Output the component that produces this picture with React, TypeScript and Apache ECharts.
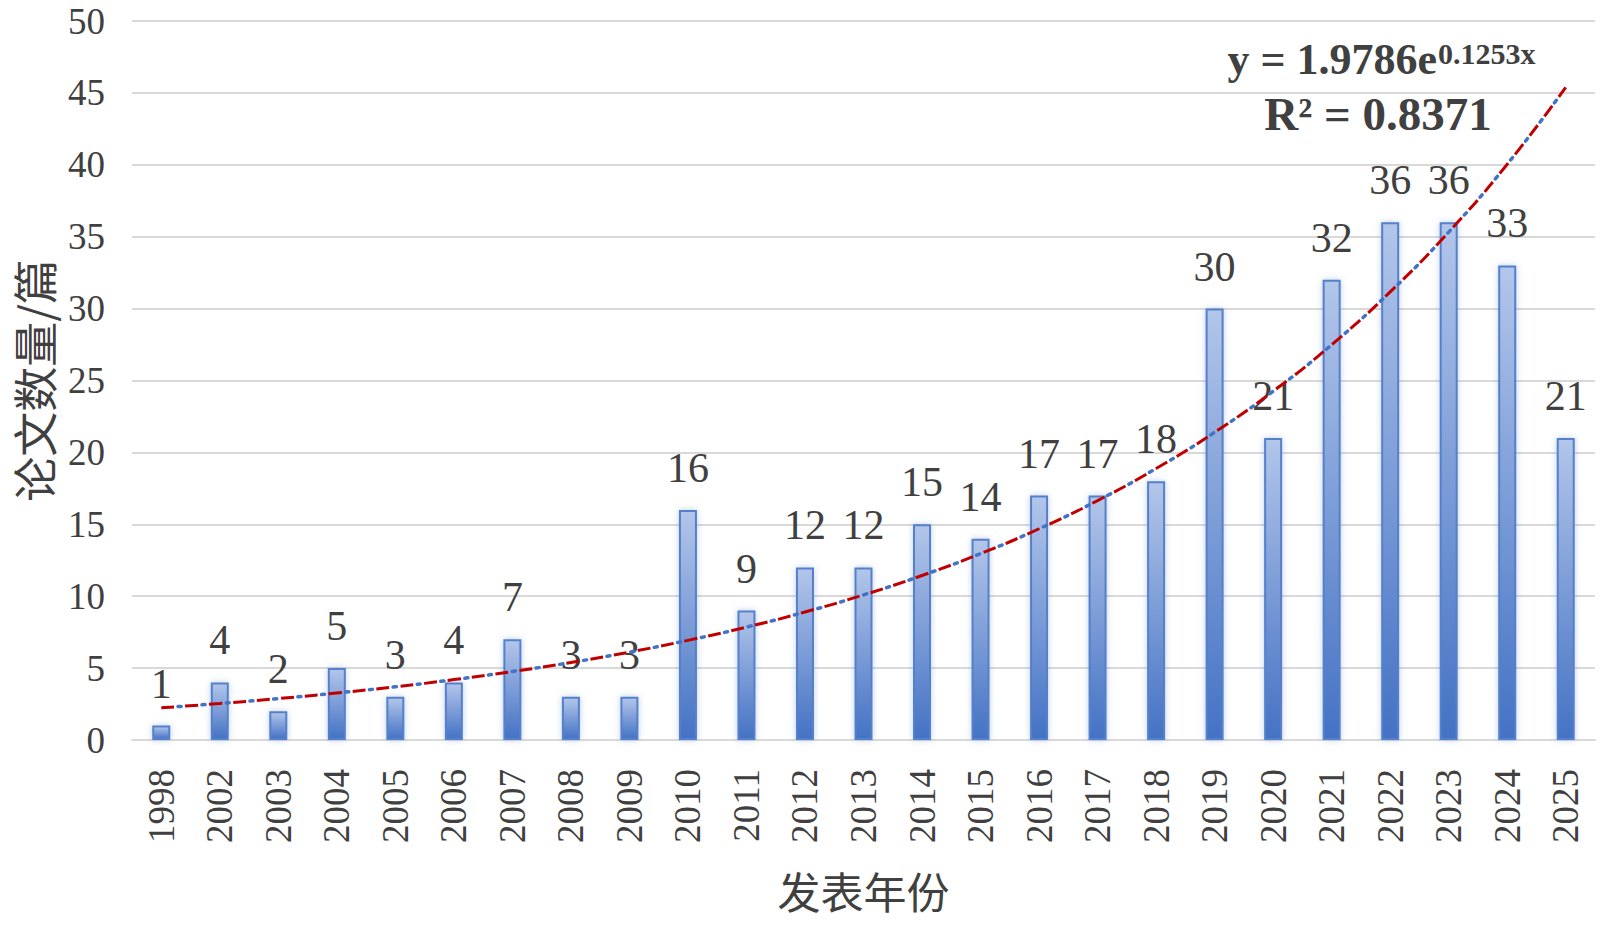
import React, { useEffect, useRef } from "react";
import * as echarts from "echarts";

const years = ["1998", "2002", "2003", "2004", "2005", "2006", "2007", "2008", "2009", "2010", "2011", "2012", "2013", "2014", "2015", "2016", "2017", "2018", "2019", "2020", "2021", "2022", "2023", "2024", "2025"];
const paperCounts = [1, 4, 2, 5, 3, 4, 7, 3, 3, 16, 9, 12, 12, 15, 14, 17, 17, 18, 30, 21, 32, 36, 36, 33, 21];
// exponential trend line values (y = 1.9786e^0.1253x)
const trendValues = [2.24, 2.54, 2.88, 3.27, 3.7, 4.2, 4.76, 5.39, 6.11, 6.93, 7.85, 8.9, 10.09, 11.44, 12.96, 14.69, 16.65, 18.88, 21.4, 24.25, 27.49, 31.16, 35.32, 40.04, 45.38];
const yTicks = { min: 0, max: 50, interval: 5 };
const xTitle = "发表年份";
const yTitle = "论文数量/篇";
const equationText = "y = 1.9786e";
const equationExp = "0.1253x";
const r2Text = "R² = 0.8371";

const SERIF = "'Liberation Serif', 'Times New Roman', serif";
const CJK = "'Noto Sans CJK SC', sans-serif";
const TEXT = "#404040";

export default function App() {
  const ref = useRef<HTMLDivElement>(null);
  useEffect(() => {
    if (!ref.current) return;
    const chart = echarts.init(ref.current, null, { renderer: "svg" });
    chart.setOption({
      animation: false,
      backgroundColor: "#ffffff",
      grid: { left: 132, right: 5, top: 21, bottom: 185, containLabel: false },
      xAxis: {
        type: "category",
        data: years,
        name: xTitle,
        nameLocation: "middle",
        nameGap: 128,
        nameTextStyle: { fontFamily: CJK, fontSize: 43, lineHeight: 44, color: TEXT },
        axisLine: { lineStyle: { color: "#d9d9d9", width: 2 } },
        axisTick: { show: false },
        axisLabel: {
          rotate: 90,
          fontFamily: SERIF,
          fontSize: 37,
          color: TEXT,
          margin: 29,
          interval: 0,
        },
      },
      yAxis: {
        type: "value",
        min: yTicks.min,
        max: yTicks.max,
        interval: yTicks.interval,
        name: yTitle,
        nameLocation: "middle",
        nameGap: 76,
        nameTextStyle: { fontFamily: CJK, fontSize: 45, color: TEXT },
        axisLine: { show: false },
        axisTick: { show: false },
        axisLabel: { fontFamily: SERIF, fontSize: 37, lineHeight: 30, color: TEXT, margin: 27 },
        splitLine: { lineStyle: { color: "#d9d9d9", width: 2 } },
      },
      series: [
        {
          type: "bar",
          data: paperCounts,
          barWidth: 18,
          itemStyle: {
            color: new echarts.graphic.LinearGradient(0, 0, 0, 1, [
              { offset: 0, color: "#b3c6ea" },
              { offset: 1, color: "#4472c4" },
            ]),
            borderColor: "#5580cc",
            borderWidth: 2,
            shadowBlur: 6,
            shadowColor: "rgba(68,114,196,0.35)",
          },
          label: {
            show: true,
            position: "top",
            distance: 21,
            fontFamily: SERIF,
            fontSize: 42,
            color: TEXT,
          },
          z: 2,
        },
        {
          type: "line",
          data: trendValues,
          smooth: true,
          symbol: "none",
          lineStyle: { color: "#c00000", width: 3, type: [13, 11], cap: "butt" },
          z: 5,
          silent: true,
        },
        {
          type: "line",
          data: trendValues,
          smooth: true,
          symbol: "none",
          lineStyle: { color: "#4472c4", width: 3.5, type: [3, 21], dashOffset: 7, cap: "round" },
          z: 6,
          silent: true,
        },
      ],
      graphic: [
        {
          type: "text",
          x: 1437,
          y: 59,
          z: 10,
          style: {
            text: equationText,
            fontFamily: SERIF,
            fontWeight: "bold",
            fontSize: 44,
            fill: TEXT,
            align: "right",
            verticalAlign: "middle",
          },
        },
        {
          type: "text",
          x: 1438,
          y: 53,
          z: 10,
          style: {
            text: equationExp,
            fontFamily: SERIF,
            fontWeight: "bold",
            fontSize: 30,
            fill: TEXT,
            align: "left",
            verticalAlign: "middle",
          },
        },
        {
          type: "text",
          x: 1378,
          y: 114,
          z: 10,
          style: {
            text: r2Text,
            fontFamily: SERIF,
            fontWeight: "bold",
            fontSize: 47,
            fill: TEXT,
            align: "center",
            verticalAlign: "middle",
          },
        },
      ],
    });
    return () => chart.dispose();
  }, []);
  return <div ref={ref} style={{ position: "absolute", left: 0, top: 0, width: 1600, height: 925 }} />;
}
